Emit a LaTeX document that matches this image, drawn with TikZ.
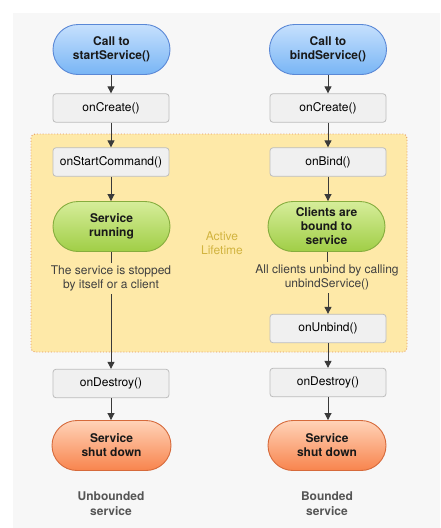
\documentclass[tikz,border=0pt]{standalone}
\usepackage{fontspec}
\setmainfont{TeX Gyre Heros}
\usetikzlibrary{arrows.meta,shadings}
\definecolor{bggray}{HTML}{F7F7F7}
\definecolor{boxfill}{HTML}{F0F0F0}
\definecolor{boxdraw}{HTML}{BDBDBD}
\definecolor{yelfill}{HTML}{FEE9A8}
\definecolor{yeldraw}{HTML}{E3955E}
\definecolor{bluetop}{HTML}{C6E0FD}
\definecolor{bluebot}{HTML}{78B5F5}
\definecolor{bluedraw}{HTML}{5A88D6}
\definecolor{greentop}{HTML}{D6ED9A}
\definecolor{greenbot}{HTML}{A0CE46}
\definecolor{greendraw}{HTML}{86AD3E}
\definecolor{orgtop}{HTML}{FFD3B8}
\definecolor{orgbot}{HTML}{F8844D}
\definecolor{orgdraw}{HTML}{D66A3B}
\definecolor{linecol}{HTML}{3A3A3A}
\definecolor{activecol}{HTML}{D2B440}
\definecolor{labelcol}{HTML}{555555}
\tikzset{
  base/.style={inner sep=0pt, align=center, font=\fontsize{12}{14}\selectfont, text=black},
  methodbox/.style={base, rectangle, rounded corners=3pt, fill=boxfill, draw=boxdraw, line width=0.8pt, minimum width=116pt, minimum height=28.5pt},
  pill/.style={base, rectangle, rounded corners=25pt, line width=0.9pt, minimum width=117pt, minimum height=50pt, font=\fontsize{12}{14}\selectfont\bfseries, text={black!90}},
  bluepill/.style={pill, top color=bluetop, bottom color=bluebot, draw=bluedraw},
  greenpill/.style={pill, top color=greentop, bottom color=greenbot, draw=greendraw},
  orangepill/.style={pill, top color=orgtop, bottom color=orgbot, draw=orgdraw, minimum width=118pt},
  note/.style={base, fill=yelfill, inner sep=3pt, text={black!75}},
  caption/.style={base, font=\fontsize{12}{15}\selectfont\bfseries, text=labelcol},
  arr/.style={draw=linecol, line width=0.9pt, -{Triangle[length=7pt,width=7pt]}},
  plain/.style={draw=linecol, line width=0.9pt},
}
\begin{document}
\begin{tikzpicture}[x=1pt,y=1pt]
\useasboundingbox (0,0) rectangle (440,-528);
\fill[bggray] (13,-13) rectangle (440,-528);
% active lifetime region
\draw[fill=yelfill, draw=yeldraw, dotted, line width=0.9pt, rounded corners=4pt] (31,-134) rectangle (407,-352);
\node[base, text=activecol] (active) at (222,-243) {Active\\Lifetime};

% left column
\node[bluepill] (call1) at (111.5,-49.5) {Call to\\startService()};
\node[methodbox] (create1) at (111,-108) {onCreate()};
\node[methodbox] (start) at (111,-162) {onStartCommand()};
\node[greenpill] (running) at (111.5,-226.5) {Service\\running};
\node[note] (stoptext) at (111,-278.5) {The service is stopped\\by itself or a client};
\node[methodbox] (destroy1) at (111,-383.5) {onDestroy()};
\node[orangepill, minimum width=119pt] (shut1) at (111.5,-445.5) {Service\\shut down};
\node[caption] (label1) at (111,-503.5) {Unbounded\\service};

% right column
\node[bluepill] (call2) at (328,-49.5) {Call to\\bindService()};
\node[methodbox] (create2) at (328,-108) {onCreate()};
\node[methodbox] (bind) at (328,-162) {onBind()};
\node[greenpill] (clients) at (326.5,-226.5) {Clients are\\bound to\\service};
\node[note] (unbindtext) at (327,-277.5) {All clients unbind by calling\\unbindService()};
\node[methodbox] (unbind) at (328,-328.5) {onUnbind()};
\node[methodbox] (destroy2) at (328,-382.5) {onDestroy()};
\node[orangepill] (shut2) at (327,-445.5) {Service\\shut down};
\node[caption] (label2) at (327,-503.5) {Bounded\\service};

% connectors left
\draw[arr] (call1.south -| create1) -- (create1.north);
\draw[arr] (create1) -- (start);
\draw[arr] (start) -- (running.north -| start);
\draw[plain] (running.south -| stoptext) -- (stoptext.north);
\draw[arr] (stoptext) -- (destroy1);
\draw[arr] (destroy1) -- (shut1.north -| destroy1);

% connectors right
\draw[arr] (call2.south -| create2) -- (create2.north);
\draw[arr] (create2) -- (bind);
\draw[arr] (bind) -- (clients.north -| bind);
\draw[plain] (clients.south -| unbindtext) -- (unbindtext.north);
\draw[arr] (unbindtext.south -| unbind) -- (unbind.north);
\draw[arr] (unbind) -- (destroy2);
\draw[arr] (destroy2) -- (shut2.north -| destroy2);
\end{tikzpicture}
\end{document}
